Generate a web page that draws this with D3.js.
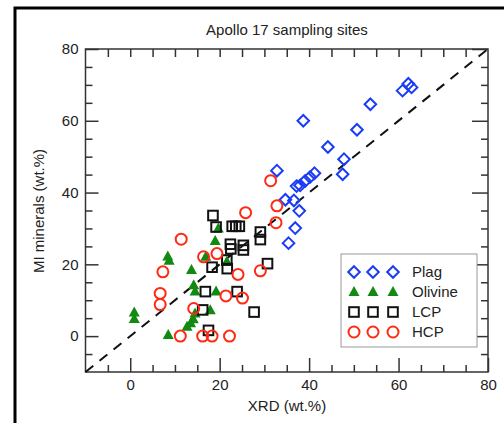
<!DOCTYPE html>
<html>
<head>
<meta charset="utf-8">
<style>
  body { margin: 0; background: #fff; }
  svg { display: block; font-family: "Liberation Sans", Arial, sans-serif; }
  .axis text { font-size: 15px; fill: #222; }
  .axis line { stroke: #333; stroke-width: 1.5; }
  .axis .domain { display: none; }
</style>
</head>
<body>
<script src="https://d3js.org/d3.v7.min.js"></script>
<script>

// data (XRD wt.%, MI wt.%)
var plag = [[60.9,68.4],[62.2,70.3],[62.9,69.3],[53.7,64.6],[38.7,60.0],[50.7,57.5],
  [44.2,52.7],[47.8,49.3],[47.5,45.1],[32.8,46.1],[41.2,45.4],[40.2,44.3],[39.1,43.2],
  [38.0,42.0],[37.2,41.8],[34.7,38.0],[36.6,37.8],[37.8,34.9],[36.9,30.1],[35.4,25.9]];
var olivine = [[0.9,6.6],[0.9,4.8],[8.4,22.2],[8.7,21.0],[8.5,0.3],[13.7,18.4],[14.2,14.2],
  [14.5,12.4],[19.2,12.4],[17.9,7.2],[12.7,2.6],[13.5,3.6],[14.1,4.7],[14.5,6.3],
  [16.9,22.1],[19.0,26.5],[19.7,30.0],[21.6,20.7]];
var lcp = [[18.5,33.6],[19.2,30.4],[22.8,30.6],[23.6,30.6],[24.4,30.6],[29.1,29.0],[29.1,26.9],
  [22.4,25.6],[22.5,24.3],[25.3,25.3],[25.3,24.0],[21.6,21.2],[21.7,18.8],[18.3,19.2],
  [30.7,20.2],[16.8,12.4],[23.9,12.4],[16.2,7.3],[27.7,6.7],[17.5,1.6]];
var hcp = [[31.4,43.3],[32.8,36.3],[25.8,34.4],[32.6,31.6],[11.4,27.0],[19.4,23.0],[16.4,22.1],
  [7.3,17.9],[24.1,17.2],[29.1,18.2],[6.7,11.9],[6.7,8.8],[21.4,11.2],[25.1,10.6],
  [14.2,7.7],[11.2,0],[16.2,0],[18.3,0],[22.2,0]];

var seriesNames = ["Plag", "Olivine", "LCP", "HCP"];
var majorTicks = [0, 20, 40, 60, 80];
var minorTicks = d3.range(-5, 80, 5);

var W = 504, H = 423;
var pLeft = 85.5, pRight = 488, pTop = 49, pBottom = 372;

var svg = d3.select("body").append("svg")
    .attr("width", W)
    .attr("height", H);

// outer figure frame
svg.append("rect")
    .attr("x", 15).attr("y", 8)
    .attr("width", 500).attr("height", 430)
    .attr("fill", "none").attr("stroke", "#000").attr("stroke-width", 3);

var x = d3.scaleLinear().domain([-10, 80]).range([pLeft, pRight]);
var y = d3.scaleLinear().domain([-10, 80]).range([pBottom, pTop]);

var styles = {
  Plag:    { color: "#1b3cf5", shape: "diamond" },
  Olivine: { color: "#128a12", shape: "triangle" },
  LCP:     { color: "#111",    shape: "square" },
  HCP:     { color: "#ff2a14", shape: "circle" }
};

// axes: majors (labelled) + minors, ticks pointing inward
function addAxis(axisFn, scale, tx, ty, ticks, size, labels) {
  var a = axisFn(scale)
      .tickValues(ticks)
      .tickSizeInner(-size)
      .tickSizeOuter(0)
      .tickPadding(labels ? 7 : 0);
  if (!labels) a.tickFormat("");
  return svg.append("g").attr("class", "axis")
      .attr("transform", "translate(" + tx + "," + ty + ")")
      .call(a);
}

var minorOnly = minorTicks.filter(function(d) { return majorTicks.indexOf(d) < 0; });

addAxis(d3.axisBottom, x, 0, pBottom, minorOnly, 7, false);
addAxis(d3.axisBottom, x, 0, pBottom, majorTicks, 14, true);
addAxis(d3.axisTop, x, 0, pTop, minorTicks, 8, false);
addAxis(d3.axisLeft, y, pLeft, 0, minorOnly, 7, false);
addAxis(d3.axisLeft, y, pLeft, 0, majorTicks, 13, true);
addAxis(d3.axisRight, y, pRight, 0, minorOnly, 7, false);
addAxis(d3.axisRight, y, pRight, 0, majorTicks, 16, false);

// frame
svg.append("rect")
    .attr("x", pLeft).attr("y", pTop)
    .attr("width", pRight - pLeft).attr("height", pBottom - pTop)
    .attr("fill", "none").attr("stroke", "#333").attr("stroke-width", 1.5);

// 1:1 line
svg.append("line")
    .attr("x1", x(-10)).attr("y1", y(-10))
    .attr("x2", x(80)).attr("y2", y(80))
    .attr("stroke", "#111").attr("stroke-width", 2)
    .attr("stroke-dasharray", "10,8");

function drawMarker(g, shape, color, cx, cy) {
  if (shape === "circle") {
    g.append("circle").attr("cx", cx).attr("cy", cy).attr("r", 5.5)
        .attr("fill", "none").attr("stroke", color).attr("stroke-width", 2);
  } else if (shape === "square") {
    g.append("rect").attr("x", cx - 4.8).attr("y", cy - 4.8)
        .attr("width", 9.6).attr("height", 9.6)
        .attr("fill", "none").attr("stroke", color).attr("stroke-width", 2);
  } else if (shape === "diamond") {
    g.append("path")
        .attr("d", "M" + cx + "," + (cy - 5.8) + "L" + (cx + 5.8) + "," + cy +
                   "L" + cx + "," + (cy + 5.8) + "L" + (cx - 5.8) + "," + cy + "Z")
        .attr("fill", "none").attr("stroke", color).attr("stroke-width", 2);
  } else {
    g.append("path")
        .attr("d", "M" + cx + "," + (cy - 6) + "L" + (cx + 5.5) + "," + (cy + 4) +
                   "L" + (cx - 5.5) + "," + (cy + 4) + "Z")
        .attr("fill", color);
  }
}

var allData = { Plag: plag, Olivine: olivine, LCP: lcp, HCP: hcp };

seriesNames.forEach(function(name) {
  var g = svg.append("g").attr("class", "series");
  allData[name].forEach(function(d) {
    drawMarker(g, styles[name].shape, styles[name].color, x(d[0]), y(d[1]));
  });
});

// legend
var lg = svg.append("g").attr("transform", "translate(341,254)");
lg.append("rect").attr("width", 136).attr("height", 93)
    .attr("fill", "#fff").attr("stroke", "#999").attr("stroke-width", 1);
seriesNames.forEach(function(name, i) {
  var yy = 18 + i * 20;
  [13, 32, 52].forEach(function(xx) {
    drawMarker(lg, styles[name].shape, styles[name].color, xx, yy);
  });
  lg.append("text").attr("x", 71).attr("y", yy + 5)
      .attr("font-size", 15).attr("fill", "#222").text(name);
});

// titles
svg.append("text").attr("x", 287).attr("y", 35)
    .attr("text-anchor", "middle").attr("font-size", 15).attr("fill", "#222")
    .text("Apollo 17 sampling sites");
svg.append("text").attr("x", 287).attr("y", 411)
    .attr("text-anchor", "middle").attr("font-size", 15).attr("fill", "#222")
    .text("XRD (wt.%)");
svg.append("text")
    .attr("transform", "translate(44,211) rotate(-90)")
    .attr("text-anchor", "middle").attr("font-size", 15).attr("fill", "#222")
    .text("MI minerals (wt.%)");

</script>
</body>
</html>
